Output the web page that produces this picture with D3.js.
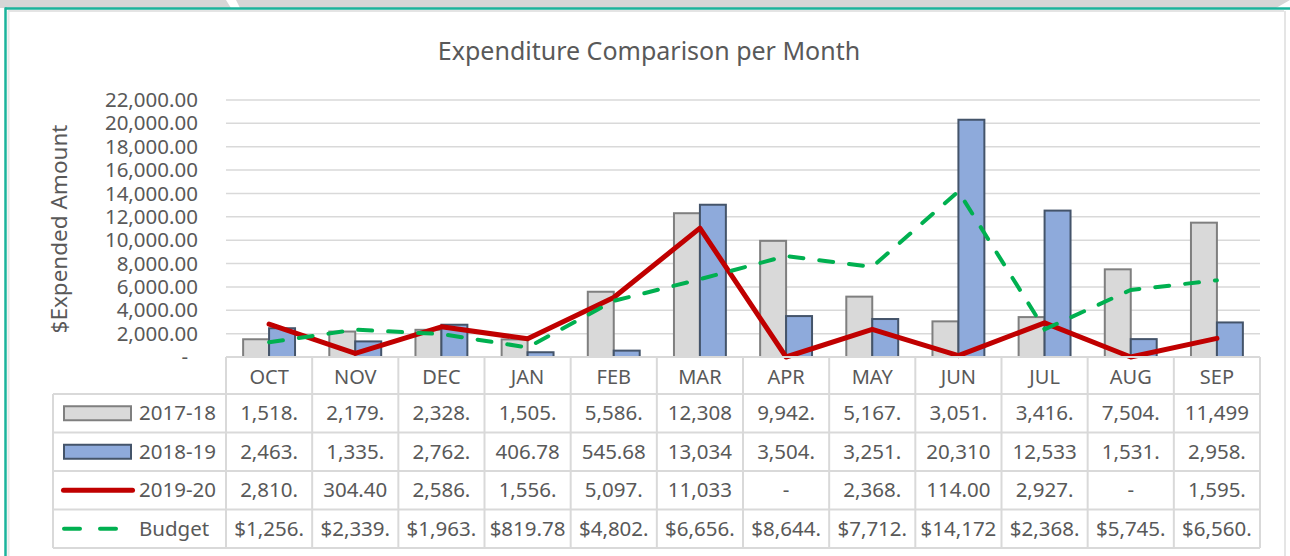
<!DOCTYPE html>
<html>
<head>
<meta charset="utf-8">
<script src="https://cdn.jsdelivr.net/npm/d3@7/dist/d3.min.js"></script>
<style>
  body { margin: 0; background: #fff; }
  text { font-family: "Noto Sans", "Open Sans", sans-serif; fill: #595959; }
</style>
</head>
<body>
<div id="chart"></div>
<script>
// data
var months = ['OCT', 'NOV', 'DEC', 'JAN', 'FEB', 'MAR', 'APR', 'MAY', 'JUN', 'JUL', 'AUG', 'SEP'];
var fy1718 = [1518, 2179, 2328, 1505, 5586, 12308, 9942, 5167, 3051, 3416, 7504, 11499];
var fy1819 = [2463, 1335, 2762, 406.78, 545.68, 13034, 3504, 3251, 20310, 12533, 1531, 2958];
var fy1920 = [2810, 304.40, 2586, 1556, 5097, 11033, 0, 2368, 114.00, 2927, 0, 1595];
var budget = [1256, 2339, 1963, 819.78, 4802, 6656, 8644, 7712, 14172, 2368, 5745, 6560];
var yTicks = [0, 2000, 4000, 6000, 8000, 10000, 12000, 14000, 16000, 18000, 20000, 22000];

var width = 1290, height = 556;
var plotLeft = 226, plotRight = 1260, plotTop = 100, base = 357, tableBottom = 548, tableLeft = 53;
var gridCol = '#d9d9d9';

var svg = d3.select('#chart').append('svg')
  .attr('width', width).attr('height', height);

// frame around the chart (screenshot border)
svg.append('rect').attr('x', 0).attr('y', 0).attr('width', width).attr('height', 8).attr('fill', '#d6d6d6');
svg.append('path').attr('d', 'M226,0 L236,0 L240,8 L231,8 Z').attr('fill', '#fff');
svg.append('path').attr('d', 'M1276,8 L1290,0 L1290,8 Z').attr('fill', '#fff');
svg.append('line').attr('x1', 8).attr('x2', 1284).attr('y1', 11).attr('y2', 11).attr('stroke', '#e4e4e4').attr('stroke-width', 2);
svg.append('line').attr('x1', 8.5).attr('x2', 8.5).attr('y1', 11).attr('y2', height).attr('stroke', '#e8e8e8').attr('stroke-width', 2);
svg.append('line').attr('x1', 1285).attr('x2', 1285).attr('y1', 11).attr('y2', height).attr('stroke', '#dcdcdc').attr('stroke-width', 1.5);
svg.append('line').attr('x1', 5).attr('x2', width).attr('y1', 8.5).attr('y2', 8.5).attr('stroke', '#1bb39b').attr('stroke-width', 2.5);
svg.append('line').attr('x1', 5.5).attr('x2', 5.5).attr('y1', 7.5).attr('y2', height).attr('stroke', '#1bb39b').attr('stroke-width', 2.5);

// title
svg.append('text')
  .attr('x', 649).attr('y', 51).attr('dy', '0.35em')
  .attr('text-anchor', 'middle')
  .style('font-size', '25px')
  .text('Expenditure Comparison per Month');

// y axis title
svg.append('text')
  .attr('transform', 'translate(59,229) rotate(-90)')
  .attr('text-anchor', 'middle').attr('dy', '0.35em')
  .style('font-size', '22.5px')
  .text('$Expended Amount');

// scales
var x = d3.scaleBand().domain(months).range([plotLeft, plotRight]);
var y = d3.scaleLinear().domain([0, 22000]).range([base, plotTop]);
var xs = d3.scaleBand().domain(['2017-18', '2018-19']).range([0, x.bandwidth()]).paddingOuter(0.66);

// gridlines
svg.append('g').selectAll('line')
  .data(yTicks.filter(function(d){ return d > 0; }))
  .enter().append('line')
  .attr('x1', plotLeft).attr('x2', plotRight)
  .attr('y1', function(d){ return y(d); }).attr('y2', function(d){ return y(d); })
  .attr('stroke', gridCol).attr('stroke-width', 1.5);

// y axis labels
var fmt2 = d3.format(',.2f');
var yAxis = svg.append('g')
  .attr('transform', 'translate(' + plotLeft + ',0)')
  .call(d3.axisLeft(y).tickValues(yTicks).tickSize(0).tickPadding(28)
    .tickFormat(function(d){ return d === 0 ? '-' : fmt2(d); }));
yAxis.select('.domain').remove();
yAxis.selectAll('text')
  .style('font-size', '20.5px').style('font-family', '"Noto Sans", sans-serif').attr('fill', '#595959')
  .attr('dx', function(d){ return d === 0 ? -10 : 0; });

// bars
var barSeries = [
  { name: '2017-18', values: fy1718, fill: '#d9d9d9', stroke: '#7f7f7f' },
  { name: '2018-19', values: fy1819, fill: '#8eaadb', stroke: '#44546a' }
];

barSeries.forEach(function(s){
  svg.append('g').selectAll('rect')
    .data(s.values)
    .enter().append('rect')
    .attr('x', function(d, i){ return x(months[i]) + xs(s.name); })
    .attr('y', function(d){ return y(d); })
    .attr('width', xs.bandwidth())
    .attr('height', function(d){ return base - y(d); })
    .attr('fill', s.fill)
    .attr('stroke', s.stroke)
    .attr('stroke-width', 2);
});

// lines
var line = d3.line()
  .x(function(d, i){ return x(months[i]) + x.bandwidth() / 2; })
  .y(function(d){ return y(d); });

svg.append('path')
  .datum(fy1920)
  .attr('d', line)
  .attr('fill', 'none')
  .attr('stroke', '#c00000')
  .attr('stroke-width', 5)
  .attr('stroke-linejoin', 'round')
  .attr('stroke-linecap', 'round');

svg.append('path')
  .datum(budget)
  .attr('d', line)
  .attr('fill', 'none')
  .attr('stroke', '#00b050')
  .attr('stroke-width', 4)
  .attr('stroke-dasharray', '14,16')
  .attr('stroke-linecap', 'round');

// data table
var tableRows = [
  { name: '2017-18', values: fy1718, prefix: '' },
  { name: '2018-19', values: fy1819, prefix: '' },
  { name: '2019-20', values: fy1920, prefix: '' },
  { name: 'Budget', values: budget, prefix: '$' }
];
var rowY = d3.scaleBand().domain(tableRows.map(function(r){ return r.name; })).range([394, tableBottom]);

var table = svg.append('g');

// horizontal rules
table.append('line').attr('x1', plotLeft).attr('x2', plotRight).attr('y1', base).attr('y2', base)
  .attr('stroke', gridCol).attr('stroke-width', 2);
rowY.domain().forEach(function(n){
  table.append('line').attr('x1', tableLeft).attr('x2', plotRight)
    .attr('y1', rowY(n)).attr('y2', rowY(n))
    .attr('stroke', gridCol).attr('stroke-width', 2);
});
table.append('line').attr('x1', tableLeft).attr('x2', plotRight).attr('y1', tableBottom).attr('y2', tableBottom)
  .attr('stroke', gridCol).attr('stroke-width', 2);

// vertical rules
months.concat(['end']).forEach(function(m, i){
  var xx = i < months.length ? x(m) : plotRight;
  table.append('line').attr('x1', xx).attr('x2', xx).attr('y1', base).attr('y2', tableBottom)
    .attr('stroke', gridCol).attr('stroke-width', 2);
});
table.append('line').attr('x1', tableLeft).attr('x2', tableLeft).attr('y1', 394).attr('y2', tableBottom)
  .attr('stroke', gridCol).attr('stroke-width', 2);

// month header
table.selectAll('text.month')
  .data(months)
  .enter().append('text')
  .attr('class', 'month')
  .attr('x', function(d){ return x(d) + x.bandwidth() / 2; })
  .attr('y', (base + 394) / 2 + 1).attr('dy', '0.35em')
  .attr('text-anchor', 'middle')
  .style('font-size', '20px')
  .text(function(d){ return d; });

// cell values, cut off like the narrow Excel cells
function cellText(v, prefix){
  if (v === 0) return '-';
  return (prefix + fmt2(v)).slice(0, 6 + prefix.length);
}

tableRows.forEach(function(r){
  var cy = rowY(r.name) + rowY.bandwidth() / 2;
  table.append('g').selectAll('text')
    .data(r.values)
    .enter().append('text')
    .attr('x', function(d, i){ return x(months[i]) + x.bandwidth() / 2; })
    .attr('y', cy).attr('dy', '0.35em')
    .attr('text-anchor', 'middle')
    .style('font-size', '20.5px')
    .text(function(d){ return cellText(d, r.prefix); });
  table.append('text')
    .attr('x', 139).attr('y', cy).attr('dy', '0.35em')
    .style('font-size', '20.5px')
    .text(r.name);
});

// legend keys
var ky = function(n){ return rowY(n) + rowY.bandwidth() / 2; };
table.append('rect').attr('x', 64).attr('y', ky('2017-18') - 7).attr('width', 67).attr('height', 14)
  .attr('fill', '#d9d9d9').attr('stroke', '#7f7f7f').attr('stroke-width', 2);
table.append('rect').attr('x', 64).attr('y', ky('2018-19') - 7).attr('width', 67).attr('height', 14)
  .attr('fill', '#8eaadb').attr('stroke', '#44546a').attr('stroke-width', 2);
table.append('line').attr('x1', 63.5).attr('x2', 132.5).attr('y1', ky('2019-20')).attr('y2', ky('2019-20'))
  .attr('stroke', '#c00000').attr('stroke-width', 5).attr('stroke-linecap', 'round');
table.append('line').attr('x1', 64).attr('x2', 116).attr('y1', ky('Budget')).attr('y2', ky('Budget'))
  .attr('stroke', '#00b050').attr('stroke-width', 4).attr('stroke-dasharray', '16,20').attr('stroke-linecap', 'round');
</script>
</body>
</html>
